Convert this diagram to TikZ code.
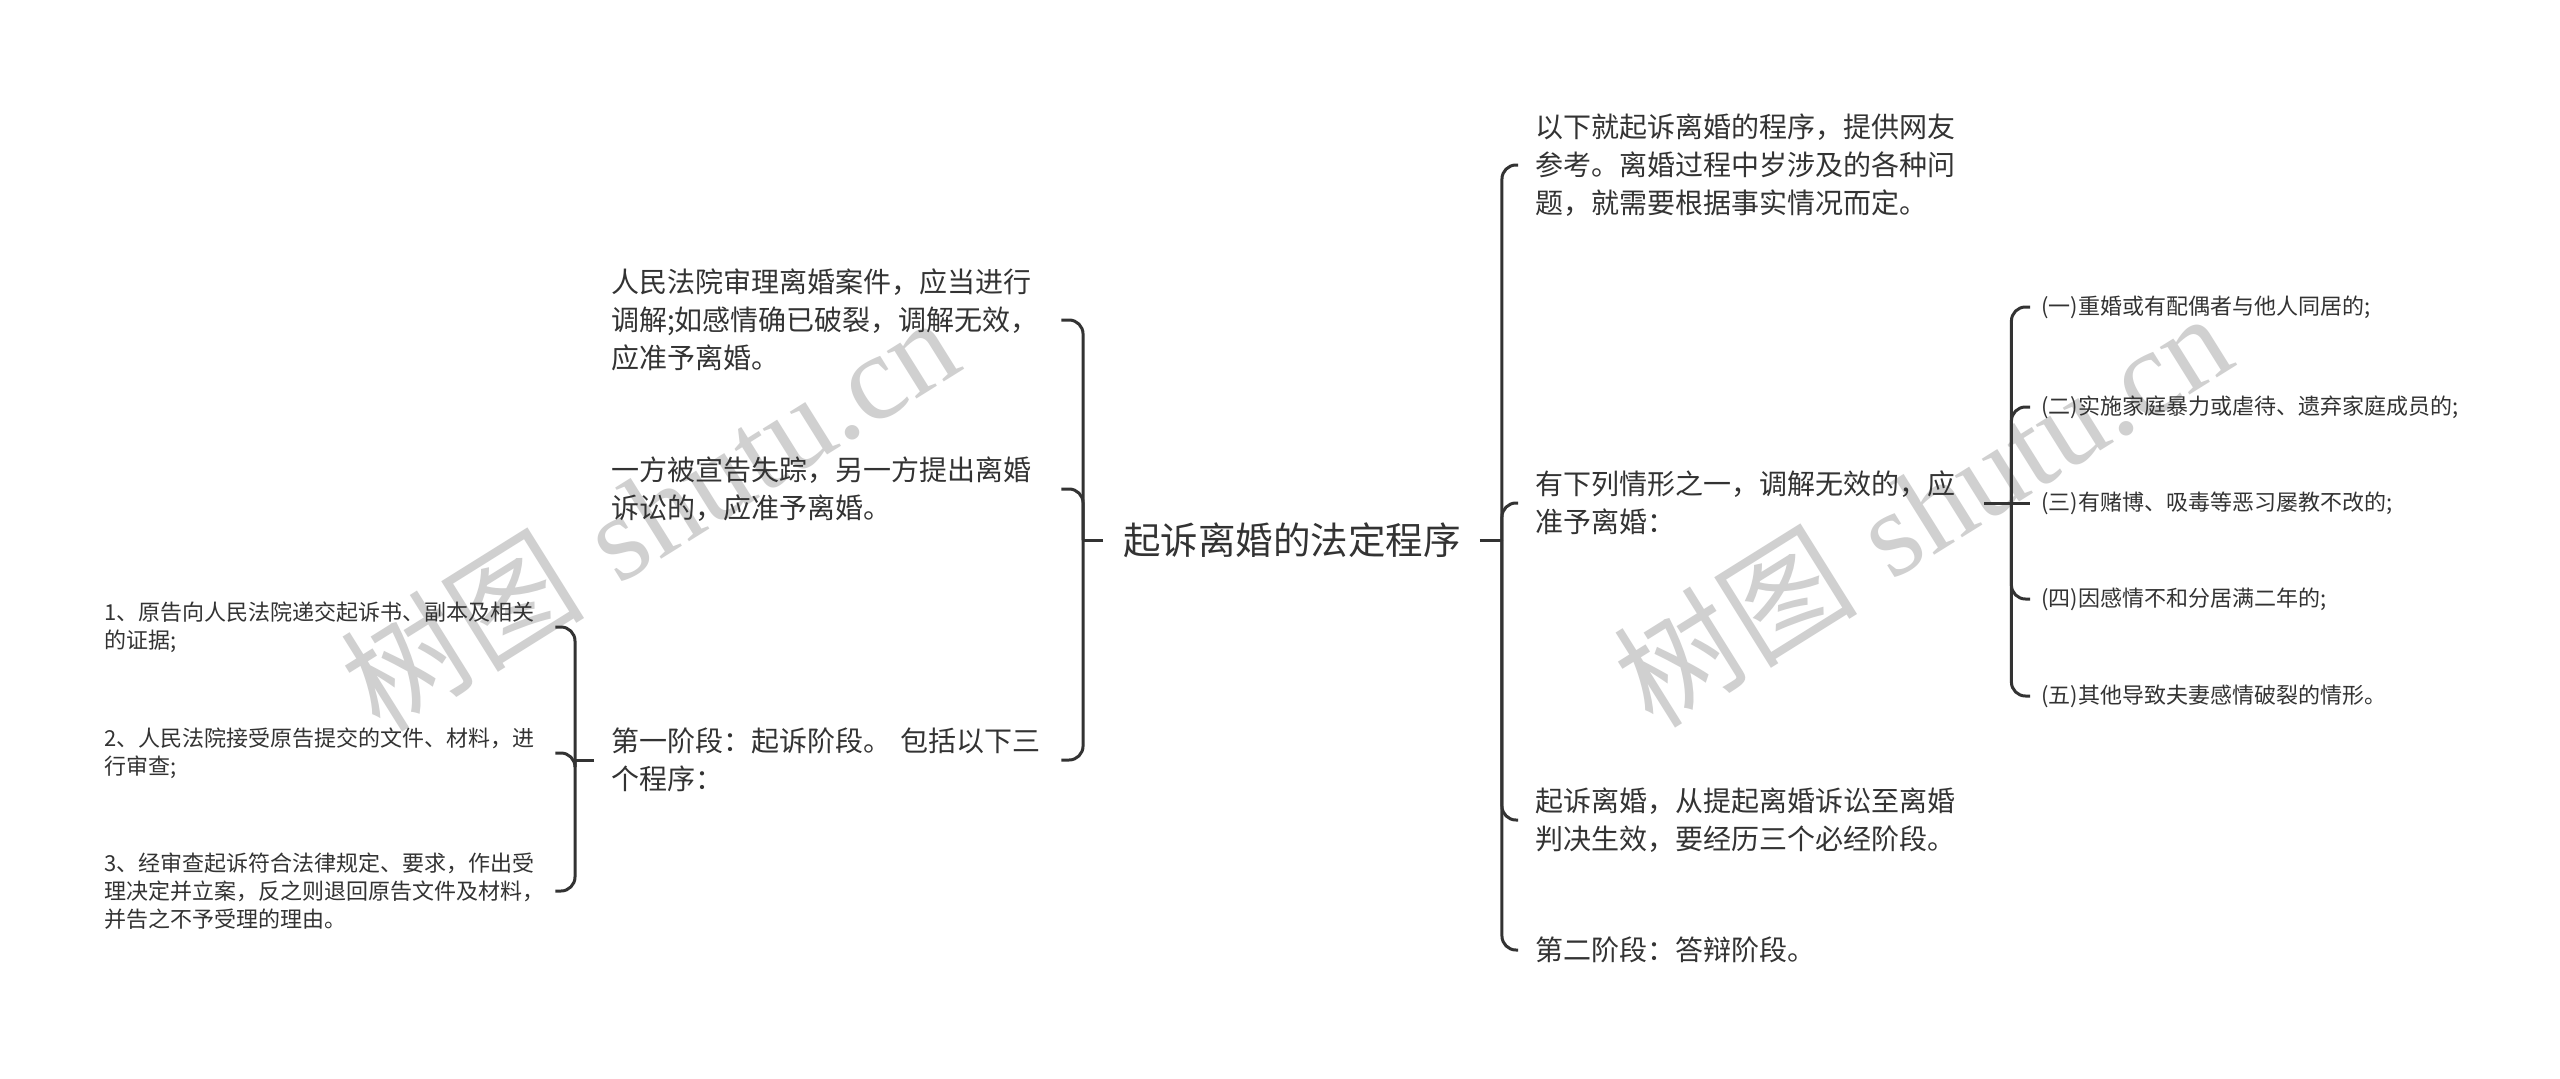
\documentclass[tikz,border=0pt]{standalone}
\usepackage{fontspec}
\newfontfamily\cjk{Noto Sans CJK SC}
\newfontfamily\wmserif{Liberation Serif}
\definecolor{linec}{HTML}{333333}
\definecolor{txtc}{HTML}{333333}
\definecolor{wmc}{HTML}{D0D0D0}
\tikzset{
  lnk/.style={draw=linec, line width=3pt, rounded corners=14pt},
  rootn/.style={inner sep=0pt, font=\cjk\fontsize{37.5}{45}\selectfont, text=txtc},
  lvone/.style={inner sep=0pt, align=left, text width=425pt, font=\cjk\fontsize{28}{38}\selectfont, text=txtc},
  lvtwo/.style={inner sep=0pt, align=left, font=\cjk\fontsize{22}{28}\selectfont, text=txtc},
  wm/.style={text=wmc, rotate=32, inner sep=0pt, font=\fontsize{122}{130}\selectfont}
}
\begin{document}
\begin{tikzpicture}[x=1pt,y=-1pt]
\useasboundingbox (0,0) rectangle (2560,1079);
\fill[white] (0,0) rectangle (2560,1079);
% watermarks
\node[wm] (wmA) at (649,512) {{\cjk 树图} {\wmserif shutu.cn}};
\node[wm] (wmB) at (1922,508) {{\cjk 树图} {\wmserif shutu.cn}};
% root
\node[rootn] (root) at (1292,540) {起诉离婚的法定程序};
% left level 1
\node[lvone, anchor=west] (L1) at (611,320) {人民法院审理离婚案件，应当进行\\调解;如感情确已破裂，调解无效，\\应准予离婚。};
\node[lvone, anchor=west] (L2) at (611,489) {一方被宣告失踪，另一方提出离婚\\诉讼的，应准予离婚。};
\node[lvone, anchor=west] (L3) at (611,760) {\mbox{第一阶段：起诉阶段。 包括以下三}\\个程序：};
% right level 1
\node[lvone, anchor=west] (R1) at (1535,165) {以下就起诉离婚的程序，提供网友\\参考。离婚过程中岁涉及的各种问\\题，就需要根据事实情况而定。};
\node[lvone, anchor=west] (R2) at (1535,503) {有下列情形之一，调解无效的，应\\准予离婚：};
\node[lvone, anchor=west] (R3) at (1535,820) {起诉离婚，从提起离婚诉讼至离婚\\判决生效，要经历三个必经阶段。};
\node[lvone, anchor=west] (R4) at (1535,950) {第二阶段：答辩阶段。};
% right level 2
\node[lvtwo, anchor=west] (S1) at (2041,307) {(一)重婚或有配偶者与他人同居的;};
\node[lvtwo, anchor=west] (S2) at (2041,407) {(二)实施家庭暴力或虐待、遗弃家庭成员的;};
\node[lvtwo, anchor=west] (S3) at (2041,503) {(三)有赌博、吸毒等恶习屡教不改的;};
\node[lvtwo, anchor=west] (S4) at (2041,599) {(四)因感情不和分居满二年的;};
\node[lvtwo, anchor=west] (S5) at (2041,696) {(五)其他导致夫妻感情破裂的情形。};
% left level 2
\node[lvtwo, text width=440pt, anchor=west] (P1) at (104,627) {1、原告向人民法院递交起诉书、副本及相关\\的证据;};
\node[lvtwo, text width=440pt, anchor=west] (P2) at (104,753) {2、人民法院接受原告提交的文件、材料，进\\行审查;};
\node[lvtwo, text width=440pt, anchor=west] (P3) at (104,891) {3、经审查起诉符合法律规定、要求，作出受\\理决定并立案，反之则退回原告文件及材料，\\并告之不予受理的理由。};
% junctions
\coordinate (LJ) at ([xshift=-40pt]root.west);
\coordinate (RJ) at ([xshift=41pt]root.east);
\coordinate (SJ) at ([xshift=51pt]R2.east);
\coordinate (PJ) at ([xshift=-36pt]L3.west);
% connectors root-left
\draw[lnk] ([xshift=-20pt]root.west) -- (LJ);
\draw[lnk] (LJ) |- ([xshift=25pt]L1.east);
\draw[lnk] (LJ) |- ([xshift=25pt]L2.east);
\draw[lnk] (LJ) |- ([xshift=25pt]L3.east);
% connectors root-right
\draw[lnk] ([xshift=19pt]root.east) -- (RJ);
\draw[lnk] (RJ) |- ([xshift=-17pt]R1.west);
\draw[lnk] (RJ) |- ([xshift=-17pt]R2.west);
\draw[lnk] (RJ) |- ([xshift=-17pt]R3.west);
\draw[lnk] (RJ) |- ([xshift=-17pt]R4.west);
% R2 children
\draw[lnk] ([xshift=24pt]R2.east) -- (SJ);
\draw[lnk] (SJ) |- ([xshift=-11pt]S1.west);
\draw[lnk] (SJ) |- ([xshift=-11pt]S2.west);
\draw[lnk] (SJ) -- ([xshift=-11pt]S3.west);
\draw[lnk] (SJ) |- ([xshift=-11pt]S4.west);
\draw[lnk] (SJ) |- ([xshift=-11pt]S5.west);
% L3 children
\draw[lnk] ([xshift=-17pt]L3.west) -- (PJ);
\draw[lnk] (PJ) |- ([xshift=11pt]P1.east);
\draw[lnk] (PJ) |- ([xshift=11pt]P2.east);
\draw[lnk] (PJ) |- ([xshift=11pt]P3.east);
\end{tikzpicture}
\end{document}
